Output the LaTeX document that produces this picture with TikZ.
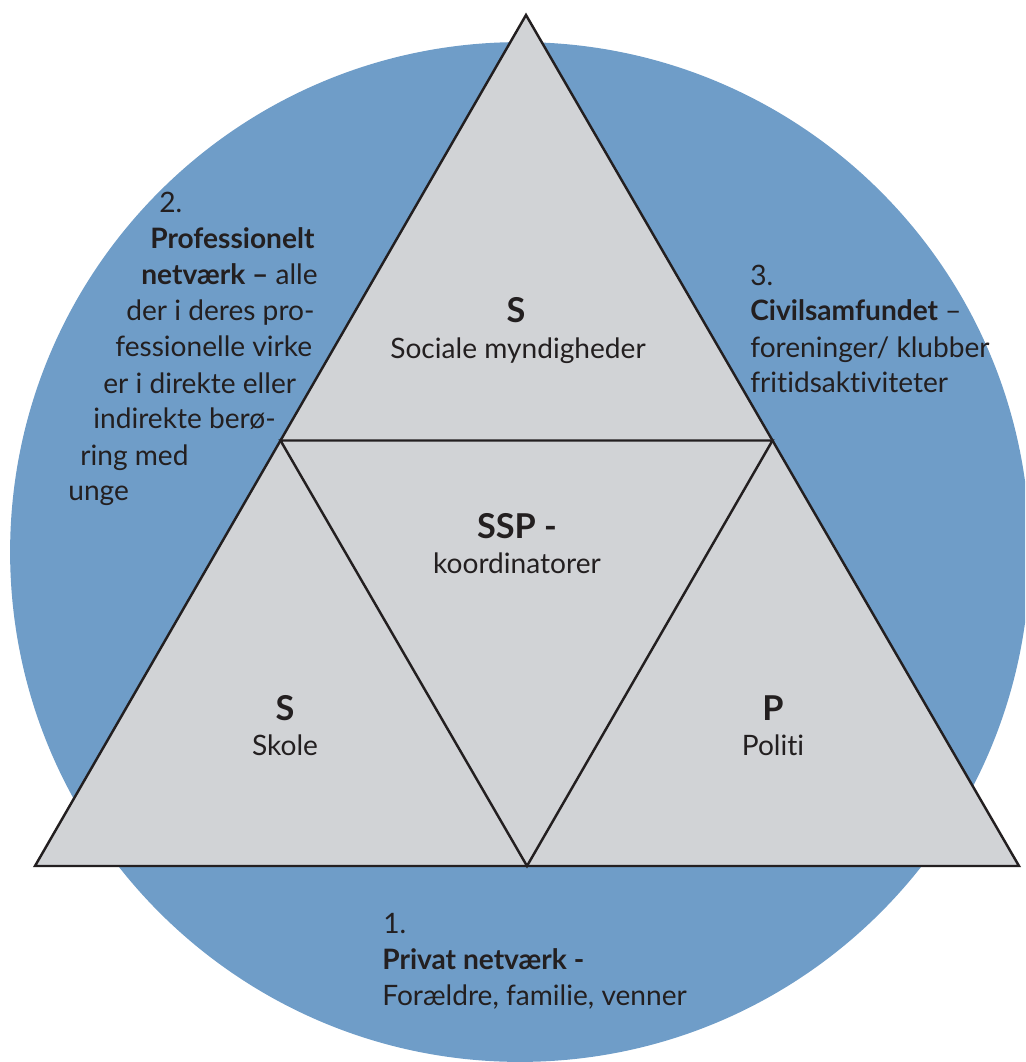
\documentclass[tikz,border=0pt]{standalone}
\usepackage{fontspec}
\setmainfont{Lato}[Ligatures={NoCommon,NoContextual}]
\usetikzlibrary{calc}
\definecolor{ringblue}{RGB}{111,157,200}
\definecolor{trigray}{RGB}{209,211,214}
\definecolor{inkdark}{RGB}{35,31,32}
\begin{document}
\begin{tikzpicture}[x=0.02cm, y=-0.02cm,
  every node/.style={text=inkdark, inner sep=0pt, font=\fontsize{16}{19}\selectfont},
  head/.style={font=\fontsize{19.5}{23}\selectfont\bfseries},
  trimark/.style={draw=inkdark, line width=1.4pt, line join=miter}]
 \useasboundingbox (0,0) rectangle (1025,1062);

 % blue ring behind the triangle
 \begin{scope}
  \clip (0,0) rectangle (1025,1062);
  \fill[ringblue] (520,552) circle [radius=10.2cm];
 \end{scope}

 % big triangle and its inner one
 \coordinate (top) at (526,15);
 \coordinate (bl) at (35,866);
 \coordinate (br) at (1019,866);
 \coordinate (ml) at ($(top)!0.5!(bl)$);
 \coordinate (mr) at ($(top)!0.5!(br)$);
 \coordinate (mb) at ($(bl)!0.5!(br)$);
 \filldraw[trimark, fill=trigray] (top) -- (br) -- (bl) -- cycle;
 \draw[trimark] (ml) -- (mr) -- (mb) -- cycle;

 % labels in the four triangles
 \node[head, anchor=base] (soc) at (516,322) {S};
 \node[anchor=base] (socname) at (518,358) {Sociale myndigheder};
 \node[head, anchor=base] (ssp) at (517,538) {SSP -};
 \node[anchor=base] (sspname) at (517,573) {koordinatorer};
 \node[head, anchor=base] (skole) at (285,720) {S};
 \node[anchor=base] (skolename) at (285,755) {Skole};
 \node[head, anchor=base] (politi) at (773,720) {P};
 \node[anchor=base] (politiname) at (773,755) {Politi};

 % 1. private network
 \node[anchor=base west] (priv1) at (383,933) {1.};
 \node[anchor=base west] (priv2) at (382,969) {\textbf{Privat netværk -}};
 \node[anchor=base west] (priv3) at (382,1005) {Forældre, familie, venner};

 % 3. civil society
 \node[anchor=base west] (civ1) at (750,285) {3.};
 \node[anchor=base west] (civ2) at (750,320) {\textbf{Civilsamfundet} –};
 \node[anchor=base west] (civ3) at (750,357) {foreninger/ klubber};
 \node[anchor=base west] (civ4) at (750,392) {fritidsaktiviteter};

 % 2. professional network, one line at a time
 \foreach \i/\xx/\yy/\txt in {1/159/212/{2.}, 2/150/248/{\textbf{Professionelt}},
   3/141/284/{\textbf{netværk –} alle}, 4/126/320/{der i deres pro-},
   5/115/356/{fessionelle virke}, 6/103/393/{er i direkte eller},
   7/93/428/{indirekte berø-}, 8/80/465/{ring med}, 9/68/500/{unge}} {
   \node[anchor=base west] (prof\i) at (\xx,\yy) {\txt};
 }
\end{tikzpicture}
\end{document}
